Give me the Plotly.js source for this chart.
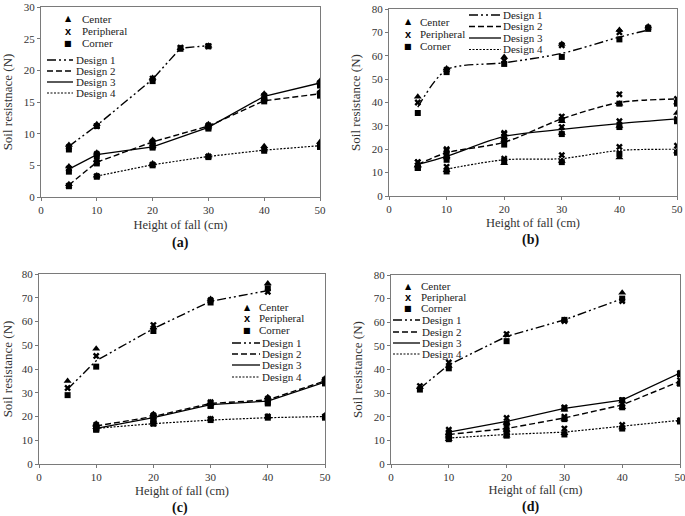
<!DOCTYPE html>
<html>
<head>
<meta charset="utf-8">
<script src="https://cdn.plot.ly/plotly-3.0.1.min.js"></script>
<style>
  body { margin: 0; background: #fff; }
  #chart { width: 685px; height: 516px; }
</style>
</head>
<body>
<div id="chart"></div>
<script>
/////
///// Data (one entry per design: 1, 2, 3, 4)
/////

// (a)
let aX = [[5, 10, 20, 25, 30], [5, 10, 20, 30, 40, 50], [5, 10, 20, 30, 40, 50], [10, 20, 30, 40, 50]];
let aLine = [[8.0, 11.3, 18.6, 23.5, 23.9], [1.9, 5.5, 8.7, 11.2, 15.2, 16.3], [4.4, 6.7, 7.9, 11.0, 15.9, 18.0], [3.3, 5.1, 6.4, 7.4, 8.1]];
let aCenter = [[8.2, 11.5, 18.8, 23.5, 23.9], [2.0, 5.8, 9.0, 11.5, 15.5, 16.6], [4.8, 7.0, 8.0, 11.3, 16.3, 18.3], [3.4, 5.3, 6.5, 8.0, 8.7]];
let aPeripheral = [[7.9, 11.2, 18.7, 23.6, 23.8], [1.8, 5.5, 8.7, 11.3, 15.3, 16.4], [4.5, 6.8, 7.9, 11.1, 16.0, 18.0], [3.3, 5.1, 6.4, 7.5, 8.2]];
let aCorner = [[7.5, 11.2, 18.3, 23.4, 23.8], [1.7, 5.3, 8.5, 11.0, 15.1, 16.0], [4.0, 6.4, 7.8, 10.8, 15.6, 17.6], [3.2, 5.0, 6.3, 7.3, 7.9]];

// (b)
let bX = [[5, 10, 20, 30, 40, 45], [5, 10, 20, 30, 40, 50], [5, 10, 20, 30, 40, 50], [10, 20, 30, 40, 50]];
let bLine = [[38, 54, 57, 61, 68, 71], [13.5, 18.5, 23, 33, 40, 41.5], [13.5, 17, 25.5, 28.5, 31, 33], [11.5, 15.5, 16, 19.5, 20]];
let bCenter = [[42.5, 54.5, 59.5, 65, 71, 72.5], [13, 17, 24, 32, 39.5, 40], [13, 16.5, 25, 27, 30, 35.5], [11, 14, 15, 16.5, 19]];
let bPeripheral = [[40, 54, 58, 64.5, 70, 72], [14.5, 20, 26.5, 34, 43.5, 41.5], [14.5, 19.5, 27, 29.5, 32, 33], [12.5, 16, 17.5, 21, 21.5]];
let bCorner = [[35.5, 53, 56.5, 59.5, 67, 71.5], [12, 18, 22, 32.5, 39.5, 39.5], [12, 15.5, 24, 26.5, 29.5, 32], [10.5, 15, 14.5, 18, 18.5]];

// (c)
let cX = [[5, 10, 20, 30, 40], [10, 20, 30, 40, 50], [10, 20, 30, 40, 50], [10, 20, 30, 40, 50]];
let cLine = [[31.5, 43.5, 57, 68.5, 73], [16, 20, 25.5, 27, 35], [15, 19.5, 25, 26.5, 34.5], [15, 17, 18.5, 19.5, 20]];
let cCenter = [[35, 48.5, 57.5, 69.5, 76], [17, 21, 26, 28, 36], [16.5, 21, 25.5, 28, 35.5], [15.5, 17.5, 19, 20, 20.5]];
let cPeripheral = [[32, 45.5, 58.5, 69, 72.5], [16.5, 20.5, 26, 27.5, 35.5], [15.5, 20, 25.5, 27, 35], [15, 17, 19, 20, 20]];
let cCorner = [[29, 41, 56, 68, 74], [15, 19, 24.5, 26, 34], [14.5, 18.5, 24.5, 25.5, 34], [14.5, 17, 18.5, 19.5, 19.5]];

// (d)
let dX = [[5, 10, 20, 30, 40], [10, 20, 30, 40, 50], [10, 20, 30, 40, 50], [10, 20, 30, 40, 50]];
let dLine = [[32, 42, 54, 61, 70], [12.5, 15, 19.5, 25, 35], [13.5, 18, 23.5, 27, 38.5], [11, 12.5, 13.5, 16, 18.5]];
let dCenter = [[32.5, 41.5, 54.5, 61, 72.5], [12, 14.5, 19, 24, 34], [13, 17.5, 23, 26.5, 38.5], [10.5, 12, 13, 15.5, 18.5]];
let dPeripheral = [[33, 43, 55, 60.5, 69], [13.5, 16, 20, 25.5, 35.5], [14.5, 19.5, 24, 27, 38.5], [11.5, 13, 15, 16.5, 18.5]];
let dCorner = [[31.5, 40.5, 52, 61, 70], [11.5, 14, 19, 24, 34], [12.5, 17, 23.5, 27, 38], [10.5, 12, 12.5, 15, 18]];

let designNames = ['Design 1', 'Design 2', 'Design 3', 'Design 4'];
let positionNames = ['Center', 'Peripheral', 'Corner'];

/////
///// Styles
/////

const W = 685, H = 516;
const SERIF = 'Liberation Serif, serif';
const dashes = ['9px,3px,2px,3px,2px,3px', '6px,3px', 'solid', '2px,1.5px'];
const widths = [1.4, 1.4, 1.3, 1.2];
const symbols = ['triangle-up', 'x', 'square'];
const symbolSizes = [7, 6, 6];

// pixel -> paper
function px(x) { return x / W; }
function py(y) { return 1 - y / H; }

function panelTraces(n, xs, line, center, peripheral, corner, smooth) {
    let xa = n === 1 ? 'x' : 'x' + n;
    let ya = n === 1 ? 'y' : 'y' + n;
    let traces = [];

    for (let d = 0; d < 4; d++) {
        traces.push({
            x: xs[d], y: line[d], xaxis: xa, yaxis: ya,
            mode: 'lines', type: 'scatter', name: designNames[d], showlegend: false,
            line: { color: '#000', width: widths[d], dash: dashes[d], shape: smooth ? 'spline' : 'linear', smoothing: 0.8 }
        });
    }

    let groups = [center, peripheral, corner];
    for (let p = 0; p < 3; p++) {
        let x = [], y = [];
        for (let d = 0; d < 4; d++) {
            x = x.concat(xs[d]);
            y = y.concat(groups[p][d]);
        }
        traces.push({
            x: x, y: y, xaxis: xa, yaxis: ya,
            mode: 'markers', type: 'scatter', name: positionNames[p], showlegend: false,
            marker: { color: '#000', symbol: symbols[p], size: symbolSizes[p], line: { width: 0 } }
        });
    }
    return traces;
}

let data = [].concat(
    panelTraces(1, aX, aLine, aCenter, aPeripheral, aCorner, false),
    panelTraces(2, bX, bLine, bCenter, bPeripheral, bCorner, true),
    panelTraces(3, cX, cLine, cCenter, cPeripheral, cCorner, false),
    panelTraces(4, dX, dLine, dCenter, dPeripheral, dCorner, false)
);

/////
///// Axes
/////

function xAxis(left, right, anchor, standoff) {
    return {
        domain: [px(left), px(right)], anchor: anchor,
        range: [0, 50], dtick: 10, ticks: 'outside', ticklen: 3, tickcolor: '#777',
        showline: true, mirror: true, linecolor: '#7a7a7a', linewidth: 1,
        showgrid: false, zeroline: false, automargin: false, ticklabeloverflow: 'allow',
        tickfont: { family: SERIF, size: 11, color: '#333' },
        title: { text: 'Height of fall (cm)', standoff: standoff, font: { family: SERIF, size: 12.5, color: '#333' } }
    };
}

function yAxis(top, bottom, anchor, max, step, label, standoff) {
    return {
        domain: [py(bottom), py(top)], anchor: anchor,
        range: [0, max], dtick: step, ticks: 'outside', ticklen: 3, tickcolor: '#777',
        showline: true, mirror: true, linecolor: '#7a7a7a', linewidth: 1,
        showgrid: false, zeroline: false, automargin: false,
        tickfont: { family: SERIF, size: 11, color: '#333' },
        title: { text: label, standoff: standoff, font: { family: SERIF, size: 13, color: '#333' } }
    };
}

/////
///// Hand-placed legends (pixel positions of each key)
/////

let legends = [
    { sym: 68, text: 81, ys: [19, 31, 43], l0: 47, l1: 73, lt: 75, ly: [60, 71, 82, 93] },
    { sym: 408, text: 419, ys: [22, 34, 46], l0: 469, l1: 501, lt: 502, ly: [15, 26.5, 38, 49.5] },
    { sym: 247, text: 258, ys: [307, 318, 330], l0: 232, l1: 260, lt: 261, ly: [343, 354, 365, 377] },
    { sym: 408, text: 420, ys: [286, 297, 308], l0: 393, l1: 420, lt: 421, ly: [320, 332, 343, 354] }
];

let glyphs = ['▲', 'x', '■'];
let glyphFonts = [
    { family: 'DejaVu Sans', size: 8, color: '#000' },
    { family: 'Liberation Sans', size: 11, color: '#000', weight: 'bold' },
    { family: 'DejaVu Sans', size: 8, color: '#000' }
];

let annotations = [];
let shapes = [];

legends.forEach(function (lg) {
    for (let p = 0; p < 3; p++) {
        annotations.push({ xref: 'paper', yref: 'paper', x: px(lg.sym), y: py(lg.ys[p]), text: glyphs[p],
            showarrow: false, xanchor: 'center', yanchor: 'middle', borderpad: 0, font: glyphFonts[p] });
        annotations.push({ xref: 'paper', yref: 'paper', x: px(lg.text), y: py(lg.ys[p]), text: positionNames[p],
            showarrow: false, xanchor: 'left', yanchor: 'middle', borderpad: 0, font: { family: SERIF, size: 11, color: '#222' } });
    }
    for (let d = 0; d < 4; d++) {
        shapes.push({ type: 'line', xref: 'paper', yref: 'paper', x0: px(lg.l0), x1: px(lg.l1), y0: py(lg.ly[d]), y1: py(lg.ly[d]),
            line: { color: '#000', width: widths[d], dash: dashes[d] } });
        annotations.push({ xref: 'paper', yref: 'paper', x: px(lg.lt), y: py(lg.ly[d]), text: designNames[d],
            showarrow: false, xanchor: 'left', yanchor: 'middle', borderpad: 0, font: { family: SERIF, size: 11, color: '#222' } });
    }
});

// panel letters
[['(a)', 180, 243], ['(b)', 530, 240], ['(c)', 180, 508], ['(d)', 530, 507]].forEach(function (t) {
    annotations.push({ xref: 'paper', yref: 'paper', x: px(t[1]), y: py(t[2]), text: '<b>' + t[0] + '</b>',
        showarrow: false, xanchor: 'center', yanchor: 'middle', font: { family: SERIF, size: 14, color: '#111' } });
});

let layout = {
    width: W, height: H,
    margin: { l: 0, r: 0, t: 0, b: 0 },
    paper_bgcolor: '#fff', plot_bgcolor: '#fff',
    showlegend: false,
    xaxis: xAxis(41, 320, 'y', 5),
    yaxis: yAxis(7, 197, 'x', 30, 5, 'Soil resistnace (N)', 8),
    xaxis2: xAxis(389, 677, 'y2', 4),
    yaxis2: yAxis(9, 196, 'x2', 80, 10, 'Soil resistance (N)', 8),
    xaxis3: xAxis(39, 325, 'y3', 4),
    yaxis3: yAxis(274, 464, 'x3', 80, 10, 'Soil resistance (N)', 8),
    xaxis4: xAxis(391, 680, 'y4', 3),
    yaxis4: yAxis(275, 464, 'x4', 80, 10, 'Soil resistance (N)', 8),
    annotations: annotations,
    shapes: shapes
};

Plotly.newPlot('chart', data, layout, { staticPlot: true });
</script>
</body>
</html>
